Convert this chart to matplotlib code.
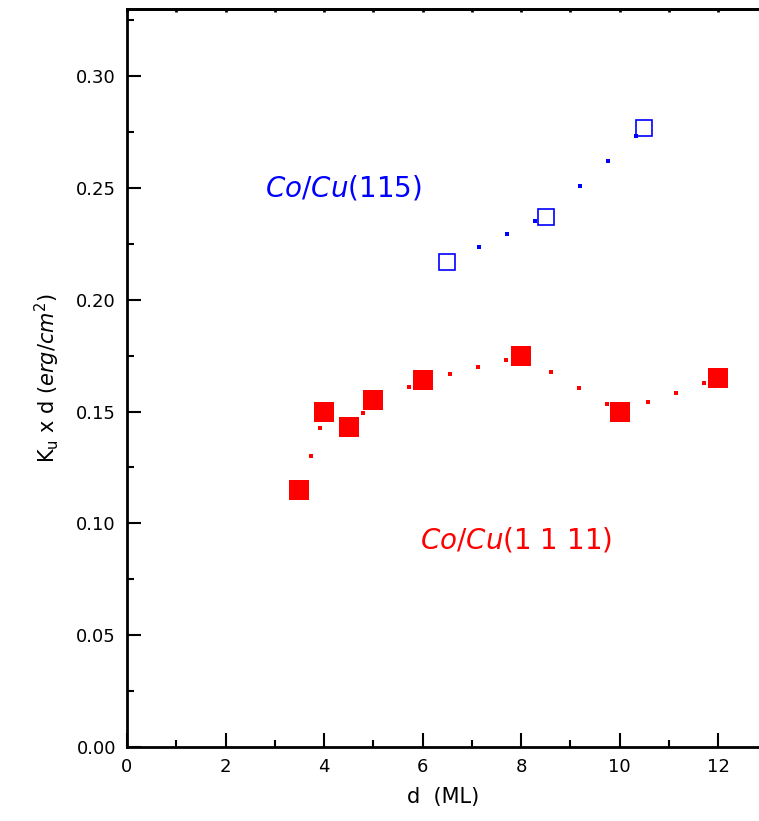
import matplotlib.pyplot as plt
from matplotlib.ticker import MultipleLocator

# Co/Cu(115) - open squares and dotted guide
d_115 = [6.5, 8.5, 10.5]
k_115 = [0.217, 0.237, 0.277]
d_115_dots = [7.15, 7.72, 8.28, 9.2, 9.77, 10.33]
k_115_dots = [0.2236, 0.2294, 0.235, 0.251, 0.262, 0.273]

# Co/Cu(1 1 11) - filled squares and dotted guide
d_1111 = [3.5, 4.0, 4.5, 5.0, 6.0, 8.0, 10.0, 12.0]
k_1111 = [0.115, 0.150, 0.143, 0.155, 0.164, 0.175, 0.150, 0.165]
d_1111_dots = [3.74, 3.92, 4.80, 5.72, 6.56, 7.13, 7.70, 8.60, 9.17, 9.74, 10.57, 11.14, 11.72]
k_1111_dots = [0.1303, 0.1428, 0.1492, 0.1610, 0.1670, 0.1701, 0.1730, 0.1675, 0.1606, 0.1534, 0.1541, 0.1584, 0.1628]

fig = plt.figure(figsize=(7.59, 8.21), dpi=100)
ax = fig.add_axes([127/759, 74/821, 1 - 127/759, (747 - 9)/821])

ax.plot(d_1111_dots, k_1111_dots, 's', color='red', ms=3.5, mew=0)
ax.plot(d_1111, k_1111, 's', color='red', ms=14.5, mew=0)
ax.plot(d_115_dots, k_115_dots, 's', color='blue', ms=3.5, mew=0)
ax.plot(d_115, k_115, 's', mfc='none', mec='blue', ms=11, mew=1.2)

ax.text(2.8, 0.25, r'$\mathit{Co/Cu}$(115)', color='blue', fontsize=20, va='center')
ax.text(5.95, 0.0926, r'$\mathit{Co/Cu}$(1 1 11)', color='red', fontsize=20, va='center')

ax.set_xlim(0, 12.83)
ax.set_ylim(0, 0.33)
ax.xaxis.set_major_locator(MultipleLocator(2))
ax.xaxis.set_minor_locator(MultipleLocator(1))
ax.yaxis.set_major_locator(MultipleLocator(0.05))
ax.yaxis.set_minor_locator(MultipleLocator(0.025))
ax.yaxis.set_major_formatter(plt.FormatStrFormatter('%.2f'))
ax.tick_params(which='major', direction='in', length=10, width=1.5, labelsize=13, pad=8)
ax.tick_params(which='minor', direction='in', length=5, width=1.5)
ax.spines['right'].set_visible(False)
for s in ['left', 'bottom', 'top']:
    ax.spines[s].set_linewidth(2)

# tiny ticks along the top border
top = ax.secondary_xaxis('top')
top.xaxis.set_major_locator(MultipleLocator(1))
top.tick_params(direction='in', length=2, width=2, labeltop=False)
top.spines['top'].set_linewidth(2)

ax.set_xlabel('d  (ML)', fontsize=15, labelpad=8)
ax.set_ylabel(r'K$_\mathrm{u}$ x d ($\mathit{erg/cm}^2$)', fontsize=15, labelpad=10)

fig.savefig('out.png', dpi=100)
